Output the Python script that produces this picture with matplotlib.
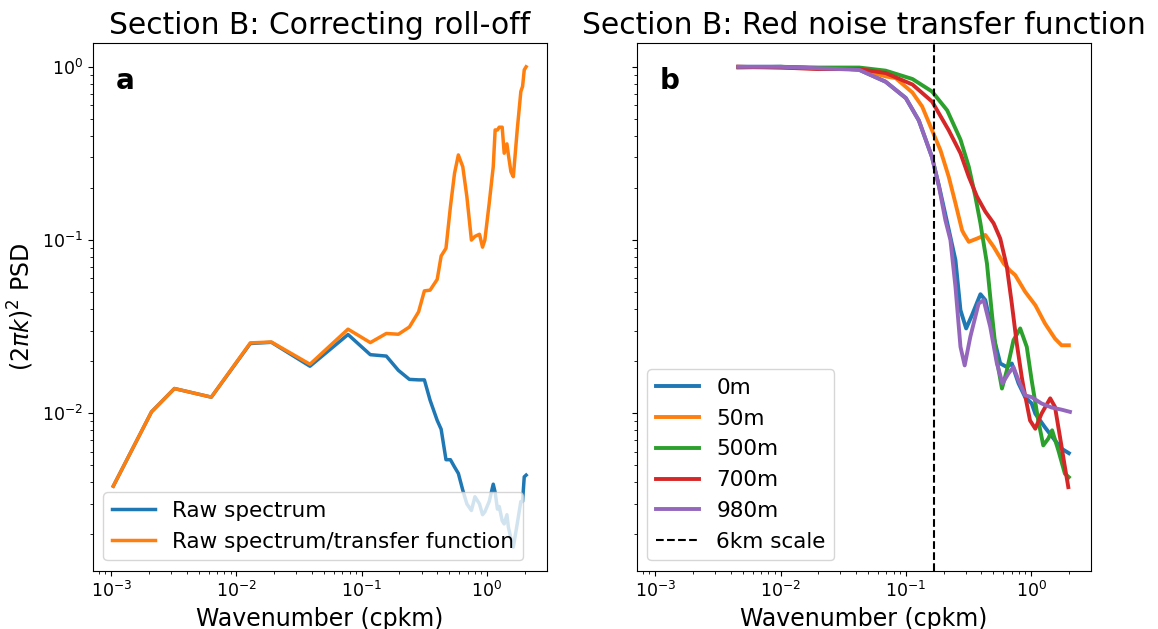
import matplotlib.pyplot as plt

# panel a: raw spectrum and the spectrum divided by the transfer function
k_raw = [1.04e-3, 2.1e-3, 3.2e-3, 6.3e-3, 1.29e-2, 1.9e-2, 3.86e-2, 7.77e-2, 0.117, 0.157,
         0.196, 0.24, 0.284, 0.316, 0.351, 0.40, 0.43, 0.47, 0.51, 0.55, 0.59, 0.64, 0.69,
         0.75, 0.80, 0.87, 0.92, 0.96, 1.04, 1.12, 1.16, 1.21, 1.25, 1.32, 1.37, 1.44, 1.48,
         1.55, 1.62, 1.74, 1.86, 1.92, 1.98, 2.05]
raw_spec = [3.8e-3, 1.02e-2, 1.39e-2, 1.24e-2, 2.53e-2, 2.57e-2, 1.87e-2, 2.85e-2, 2.18e-2,
            2.14e-2, 1.77e-2, 1.57e-2, 1.56e-2, 1.56e-2, 1.19e-2, 9.1e-3, 8.1e-3, 5.4e-3,
            5.4e-3, 4.9e-3, 4.5e-3, 3.6e-3, 3.0e-3, 2.75e-3, 3.3e-3, 3.0e-3, 2.6e-3, 2.7e-3,
            3.1e-3, 3.9e-3, 3.5e-3, 2.8e-3, 2.9e-3, 2.4e-3, 2.3e-3, 2.6e-3, 2.2e-3, 1.9e-3,
            1.69e-3, 2.3e-3, 3.1e-3, 3.1e-3, 4.3e-3, 4.4e-3]
corr_spec = [3.8e-3, 1.02e-2, 1.39e-2, 1.24e-2, 2.55e-2, 2.58e-2, 1.92e-2, 3.06e-2, 2.56e-2,
             2.89e-2, 2.86e-2, 3.15e-2, 3.85e-2, 5.09e-2, 5.14e-2, 5.93e-2, 8.09e-2, 8.96e-2,
             0.156, 0.243, 0.31, 0.265, 0.178, 0.10, 0.105, 0.108, 0.091, 0.10, 0.163, 0.265,
             0.432, 0.432, 0.448, 0.448, 0.317, 0.359, 0.31, 0.248, 0.232, 0.432, 0.72, 0.77,
             0.96, 1.0]

# panel b: transfer functions at different depths
k_0m = [4.6e-3, 0.01, 0.02, 0.03, 0.0425, 0.069, 0.1, 0.127, 0.162, 0.184, 0.207, 0.22,
        0.249, 0.273, 0.303, 0.337, 0.394, 0.431, 0.486, 0.567, 0.64, 0.701, 0.793, 0.896,
        1.01, 1.08, 1.29, 1.55, 1.75, 2.0]
tf_0m = [1.0, 1.0, 0.98, 0.98, 0.96, 0.82, 0.66, 0.49, 0.30, 0.205, 0.14, 0.115, 0.0766,
         0.0394, 0.0309, 0.0368, 0.0487, 0.045, 0.0302, 0.0194, 0.0185, 0.0194, 0.0149,
         0.0124, 0.0114, 0.00995, 0.0083, 0.00698, 0.00625, 0.00589]

k_50m = [4.6e-3, 0.01, 0.02, 0.03, 0.0425, 0.069, 0.083, 0.113, 0.135, 0.162, 0.189, 0.22,
         0.249, 0.281, 0.29, 0.318, 0.37, 0.431, 0.502, 0.603, 0.681, 0.746, 0.896, 1.08,
         1.29, 1.55, 1.75, 2.0]
tf_50m = [1.0, 0.99, 0.98, 0.98, 0.97, 0.88, 0.86, 0.71, 0.59, 0.43, 0.33, 0.232, 0.163,
          0.114, 0.109, 0.0977, 0.102, 0.107, 0.0915, 0.0733, 0.0665, 0.0628, 0.0503,
          0.0421, 0.033, 0.027, 0.0247, 0.0247]

k_500m = [4.6e-3, 0.01, 0.02, 0.03, 0.0425, 0.069, 0.113, 0.162, 0.214, 0.273, 0.318, 0.359,
          0.394, 0.405, 0.444, 0.486, 0.533, 0.585, 0.64, 0.723, 0.818, 0.923, 1.01, 1.14,
          1.25, 1.37, 1.47, 1.65, 1.86, 2.0]
tf_500m = [0.99, 1.0, 0.99, 0.99, 0.99, 0.95, 0.85, 0.72, 0.56, 0.38, 0.265, 0.178, 0.125,
           0.11, 0.0733, 0.0377, 0.0202, 0.0139, 0.0177, 0.0264, 0.0309, 0.0242, 0.0155,
           0.0091, 0.00653, 0.00714, 0.00798, 0.00611, 0.00448, 0.00428]

k_700m = [4.6e-3, 0.01, 0.02, 0.03, 0.0425, 0.069, 0.113, 0.162, 0.22, 0.273, 0.318, 0.37,
          0.431, 0.502, 0.567, 0.64, 0.701, 0.768, 0.842, 0.869, 0.98, 1.08, 1.21, 1.42,
          1.55, 1.70, 1.86, 1.98]
tf_700m = [1.0, 0.99, 0.97, 0.97, 0.97, 0.92, 0.79, 0.63, 0.43, 0.317, 0.232, 0.178, 0.146,
           0.125, 0.102, 0.0701, 0.043, 0.0253, 0.0162, 0.0142, 0.0091, 0.00815, 0.00995,
           0.0122, 0.0109, 0.0073, 0.0049, 0.00375]

k_980m = [4.6e-3, 0.01, 0.02, 0.03, 0.0425, 0.069, 0.1, 0.127, 0.162, 0.184, 0.207, 0.227,
          0.249, 0.273, 0.295, 0.327, 0.381, 0.418, 0.472, 0.533, 0.591, 0.66, 0.723, 0.793,
          0.896, 1.01, 1.21, 1.46, 1.75, 2.04]
tf_980m = [1.0, 1.0, 0.98, 0.97, 0.96, 0.82, 0.66, 0.49, 0.30, 0.203, 0.13, 0.10, 0.0537,
           0.0242, 0.0189, 0.0276, 0.043, 0.045, 0.0315, 0.0194, 0.0149, 0.017, 0.0185,
           0.0155, 0.0127, 0.0124, 0.0114, 0.0108, 0.0105, 0.0102]

depth_labels = ['0m', '50m', '500m', '700m', '980m']
scale_km = 6

fig, (ax1, ax2) = plt.subplots(1, 2, figsize=(11.58, 6.29), dpi=100, sharex=True, sharey=True)
fig.subplots_adjust(left=0.080, right=0.942, bottom=0.092, top=0.932, wspace=0.198)

ax1.loglog(k_raw, raw_spec, lw=2.5, label='Raw spectrum')
ax1.loglog(k_raw, corr_spec, lw=2.5, label='Raw spectrum/transfer function')
ax1.legend(loc='lower left', fontsize=15.5)
ax1.set_title('Section B: Correcting roll-off', fontsize=21.4)
ax1.set_xlabel('Wavenumber (cpkm)', fontsize=17)
ax1.set_ylabel(r'$(2\pi k)^2$ PSD', fontsize=17)
ax1.text(0.05, 0.912, 'a', transform=ax1.transAxes, fontsize=20, fontweight='bold')

curves = [(k_0m, tf_0m), (k_50m, tf_50m), (k_500m, tf_500m), (k_700m, tf_700m), (k_980m, tf_980m)]
for (k, tf), lab in zip(curves, depth_labels):
    ax2.loglog(k, tf, lw=2.8, label=lab)
ax2.axvline(1 / scale_km, color='k', ls='--', lw=1.5, label='6km scale')
ax2.legend(loc='lower left', fontsize=15.5)
ax2.set_title('Section B: Red noise transfer function', fontsize=21.4)
ax2.set_xlabel('Wavenumber (cpkm)', fontsize=17)
ax2.text(0.05, 0.912, 'b', transform=ax2.transAxes, fontsize=20, fontweight='bold')

for ax in (ax1, ax2):
    ax.tick_params(labelsize=12.5)

plt.savefig('out.png')
